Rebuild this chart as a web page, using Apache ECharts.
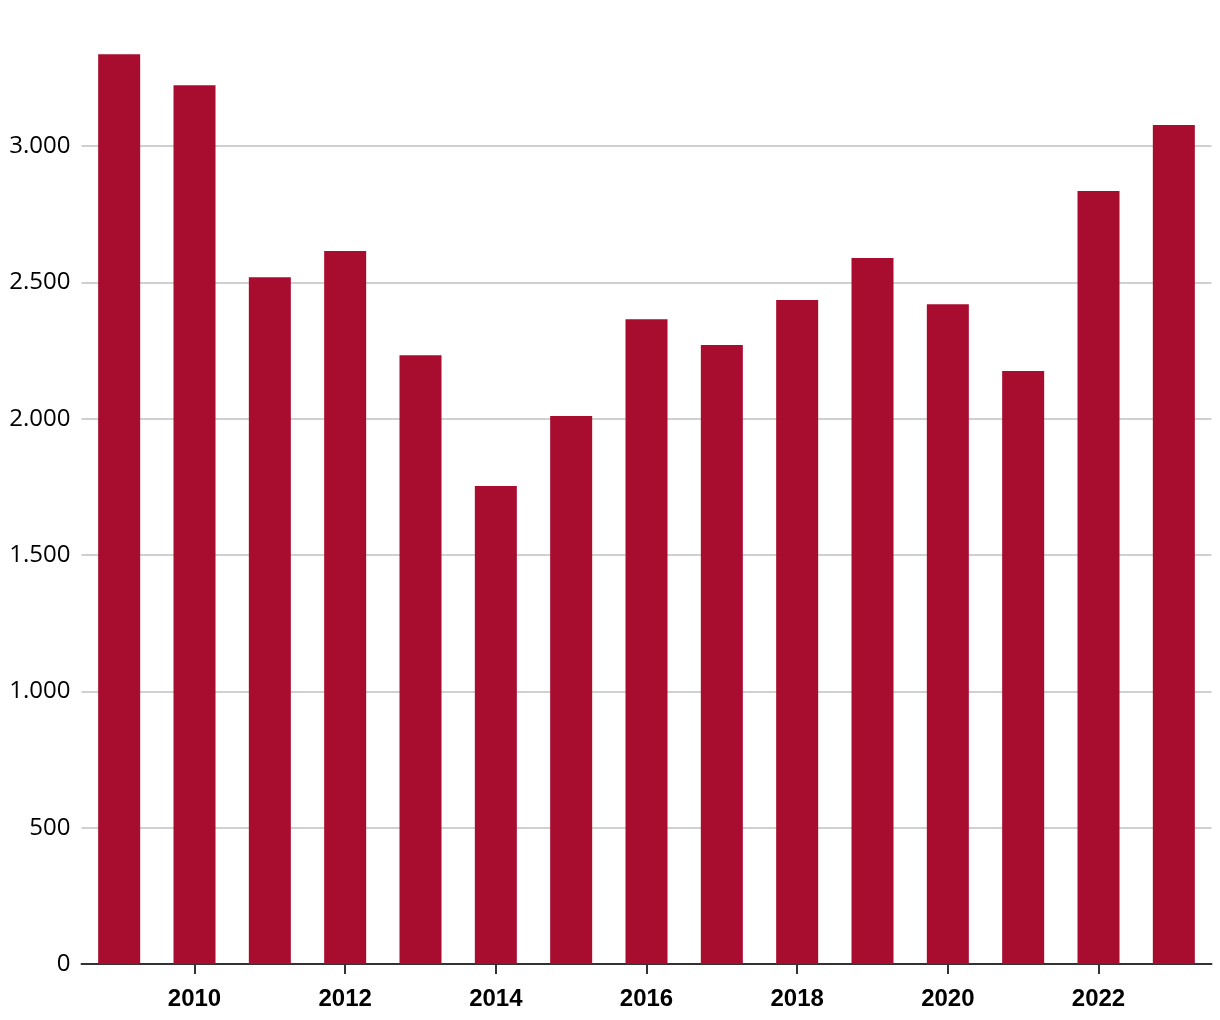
<!DOCTYPE html>
<html><head><meta charset="utf-8">
<script src="https://cdn.jsdelivr.net/npm/echarts@6/dist/echarts.min.js"></script>
<style>html,body{margin:0;padding:0;background:#fff}#c{width:1220px;height:1020px}</style>
</head><body><div id="c"></div>
<script>
const years = ['2009','2010','2011','2012','2013','2014','2015','2016','2017','2018','2019','2020','2021','2022','2023'];
const values = [3337, 3223, 2519, 2615, 2233, 1753, 2010, 2365, 2270, 2435, 2589, 2420, 2175, 2835, 3077];
const yTicks = [0, 500, 1000, 1500, 2000, 2500, 3000];

function fmt(v){ return String(v).replace(/\B(?=(\d{3})+(?!\d))/g, '.'); }

const chart = echarts.init(document.getElementById('c'), null, {renderer:'canvas'});
chart.setOption({
  animation:false,
  grid:{left:81.5, right:8.5, top:9.7, bottom:56, containLabel:false},
  xAxis:{
    type:'category', data:years, boundaryGap:true,
    axisLine:{lineStyle:{color:'#333', width:2}},
    axisTick:{show:true, alignWithLabel:true, length:10, lineStyle:{color:'#333', width:2}},
    axisLabel:{interval:(i)=>i%2===1, margin:23, color:'#000', fontFamily:'Arial, "Liberation Sans", sans-serif', fontWeight:'bold', fontSize:24}
  },
  yAxis:{
    type:'value', min:0, max:3500, interval:500,
    axisLine:{show:false}, axisTick:{show:false},
    splitLine:{show:true, showMaxLine:false, lineStyle:{color:'#c0c0c0', width:1.5}},
    axisLabel:{showMaxLabel:false, margin:11, color:'#000', fontFamily:'"Open Sans"', fontSize:24,
      formatter:(v)=> yTicks.indexOf(v)>=0 ? fmt(v) : ''}
  },
  series:[{type:'bar', data:values, barWidth:42, itemStyle:{color:'#a80c2e'}}]
});
</script></body></html>
